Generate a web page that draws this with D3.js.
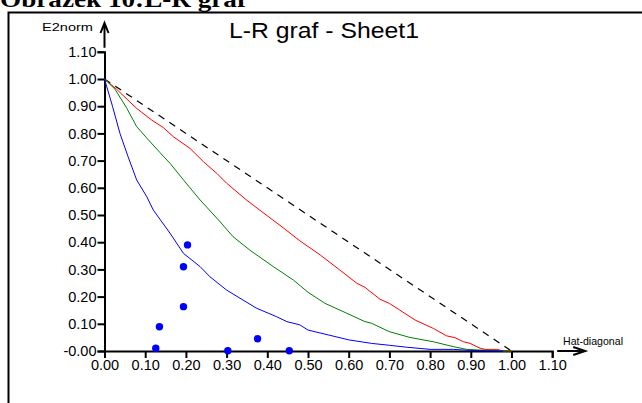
<!DOCTYPE html>
<html>
<head>
<meta charset="utf-8">
<script src="https://cdn.jsdelivr.net/npm/d3@7"></script>
<style>
    body { margin: 0; background: #fff; }
    svg { display: block; }
</style>
</head>
<body>
<div id="chart"></div>
<script>
// values
const pointsX = [0.126, 0.135, 0.194, 0.194, 0.204, 0.303, 0.376, 0.454];
const pointsY = [0.010, 0.089, 0.163, 0.310, 0.390, 0.001, 0.045, 0.001];

const redCurve = [[0, 1], [0.03, 0.962], [0.079, 0.892], [0.116, 0.849], [0.144, 0.822], [0.169, 0.788],
    [0.21, 0.745], [0.243, 0.696], [0.276, 0.653], [0.30, 0.617], [0.349, 0.555], [0.40, 0.497],
    [0.44, 0.452], [0.48, 0.405], [0.53, 0.353], [0.578, 0.298], [0.62, 0.249], [0.64, 0.234],
    [0.677, 0.19], [0.70, 0.175], [0.725, 0.151], [0.763, 0.114], [0.808, 0.083], [0.84, 0.056],
    [0.861, 0.049], [0.882, 0.034], [0.898, 0.028], [0.923, 0.01], [0.935, 0.006], [0.964, 0.006],
    [0.98, 0.0], [1.0, 0.0]];
const greenCurve = [[0, 1], [0.026, 0.962], [0.055, 0.892], [0.079, 0.825], [0.108, 0.776], [0.136, 0.73],
    [0.161, 0.69], [0.194, 0.629], [0.235, 0.555], [0.28, 0.482], [0.316, 0.42], [0.357, 0.371],
    [0.415, 0.31], [0.464, 0.261], [0.50, 0.216], [0.542, 0.175], [0.595, 0.139], [0.64, 0.108],
    [0.656, 0.102], [0.70, 0.071], [0.75, 0.05], [0.808, 0.034], [0.857, 0.016], [0.89, 0.006],
    [0.915, 0.004], [0.96, 0.002], [1.0, 0]];
const blueCurve = [[0, 1], [0.02, 0.898], [0.038, 0.80], [0.058, 0.714], [0.079, 0.629], [0.104, 0.567],
    [0.12, 0.518], [0.136, 0.485], [0.161, 0.433], [0.194, 0.359], [0.235, 0.31], [0.259, 0.273],
    [0.30, 0.224], [0.333, 0.194], [0.374, 0.157], [0.423, 0.126], [0.448, 0.108], [0.48, 0.096],
    [0.50, 0.077], [0.55, 0.059], [0.60, 0.041], [0.656, 0.028], [0.70, 0.021], [0.742, 0.014],
    [0.80, 0.006], [0.857, 0.006], [0.90, 0.002], [0.98, 0]];
const diagonal = [[0, 1], [1, 0]];

const tickValues = [0, 0.1, 0.2, 0.3, 0.4, 0.5, 0.6, 0.7, 0.8, 0.9, 1.0, 1.1];
const xTickLabels = ['0.00', '0.10', '0.20', '0.30', '0.40', '0.50', '0.60', '0.70', '0.80', '0.90', '1.00', '1.10'];
const yTickLabels = ['-0.00', '0.10', '0.20', '0.30', '0.40', '0.50', '0.60', '0.70', '0.80', '0.90', '1.00', '1.10'];

const width = 642, height = 403;
const sans = 'Arial, "Liberation Sans", sans-serif';

const svg = d3.select('#chart')
    .append('svg')
    .attr('width', width)
    .attr('height', height);

const x = d3.scaleLinear().domain([0, 1.1]).range([104.5, 552.2]);
const y = d3.scaleLinear().domain([0, 1.1]).range([351, 51.8]);

// caption above the frame, mostly cut off
svg.append('text')
    .attr('x', 0)
    .attr('y', 7)
    .attr('font-family', '"Liberation Serif", "Times New Roman", serif')
    .attr('font-weight', 'bold')
    .attr('font-size', 24)
    .attr('textLength', 246)
    .attr('lengthAdjust', 'spacingAndGlyphs')
    .text('Obrázek 10:L-R graf');

// frame
svg.append('path')
    .attr('d', `M8.5,${height} V12.5 H${width}`)
    .attr('fill', 'none')
    .attr('stroke', '#000')
    .attr('stroke-width', 2);

svg.append('text')
    .attr('x', 229)
    .attr('y', 38)
    .attr('font-family', sans)
    .attr('font-size', 22.5)
    .attr('textLength', 190)
    .attr('lengthAdjust', 'spacingAndGlyphs')
    .text('L-R graf - Sheet1');

const xAxis = svg.append('g')
    .attr('transform', `translate(0,${y(0)})`)
    .call(d3.axisBottom(x).tickValues(tickValues).tickSize(7).tickPadding(2)
        .tickFormat((d, i) => xTickLabels[i]));
const yAxis = svg.append('g')
    .attr('transform', `translate(${x(0)},0)`)
    .call(d3.axisLeft(y).tickValues(tickValues).tickSize(7).tickPadding(1)
        .tickFormat((d, i) => yTickLabels[i]));

[xAxis, yAxis].forEach(function (g) {
    g.select('.domain').attr('stroke-width', 2);
    g.selectAll('.tick line').attr('stroke-width', 2);
    g.selectAll('.tick text')
        .attr('font-family', sans)
        .attr('font-size', 14.5)
        .attr('fill', '#000');
});

// arrows at the axis ends
const arrows = svg.append('g')
    .attr('fill', 'none')
    .attr('stroke', '#000')
    .attr('stroke-width', 2);
arrows.append('path').attr('d', `M${x(1.1) + 5},${y(0)} H${x(1.1) + 33} M${x(1.1) + 21},${y(0) - 4} L${x(1.1) + 33},${y(0)} L${x(1.1) + 21},${y(0) + 4}`);
arrows.append('path').attr('d', `M${x(0)},${y(1.1) - 4} V23 M${x(0) - 4},33 L${x(0)},23 L${x(0) + 4},33`);

svg.append('text')
    .attr('x', 563)
    .attr('y', 345)
    .attr('font-family', sans)
    .attr('font-size', 10.5)
    .attr('textLength', 60)
    .attr('lengthAdjust', 'spacingAndGlyphs')
    .text('Hat-diagonal');
svg.append('text')
    .attr('x', 42)
    .attr('y', 31)
    .attr('font-family', sans)
    .attr('font-size', 11.5)
    .attr('textLength', 51)
    .attr('lengthAdjust', 'spacingAndGlyphs')
    .text('E2norm');

const line = d3.line()
    .x(d => x(d[0]))
    .y(d => y(d[1]));

svg.append('path')
    .datum(diagonal)
    .attr('d', line)
    .attr('fill', 'none')
    .attr('stroke', '#000')
    .attr('stroke-width', 1.2)
    .attr('stroke-dasharray', '7,6');

[[redCurve, '#ff0000'], [greenCurve, '#008000'], [blueCurve, '#0000ff']].forEach(function (c) {
    svg.append('path')
        .datum(c[0])
        .attr('d', line)
        .attr('fill', 'none')
        .attr('stroke', c[1])
        .attr('stroke-width', 1);
});

svg.append('g')
    .selectAll('circle')
    .data(pointsX)
    .join('circle')
    .attr('cx', d => x(d))
    .attr('cy', (d, i) => y(pointsY[i]))
    .attr('r', 3.7)
    .attr('fill', '#0000ff');
</script>
</body>
</html>
